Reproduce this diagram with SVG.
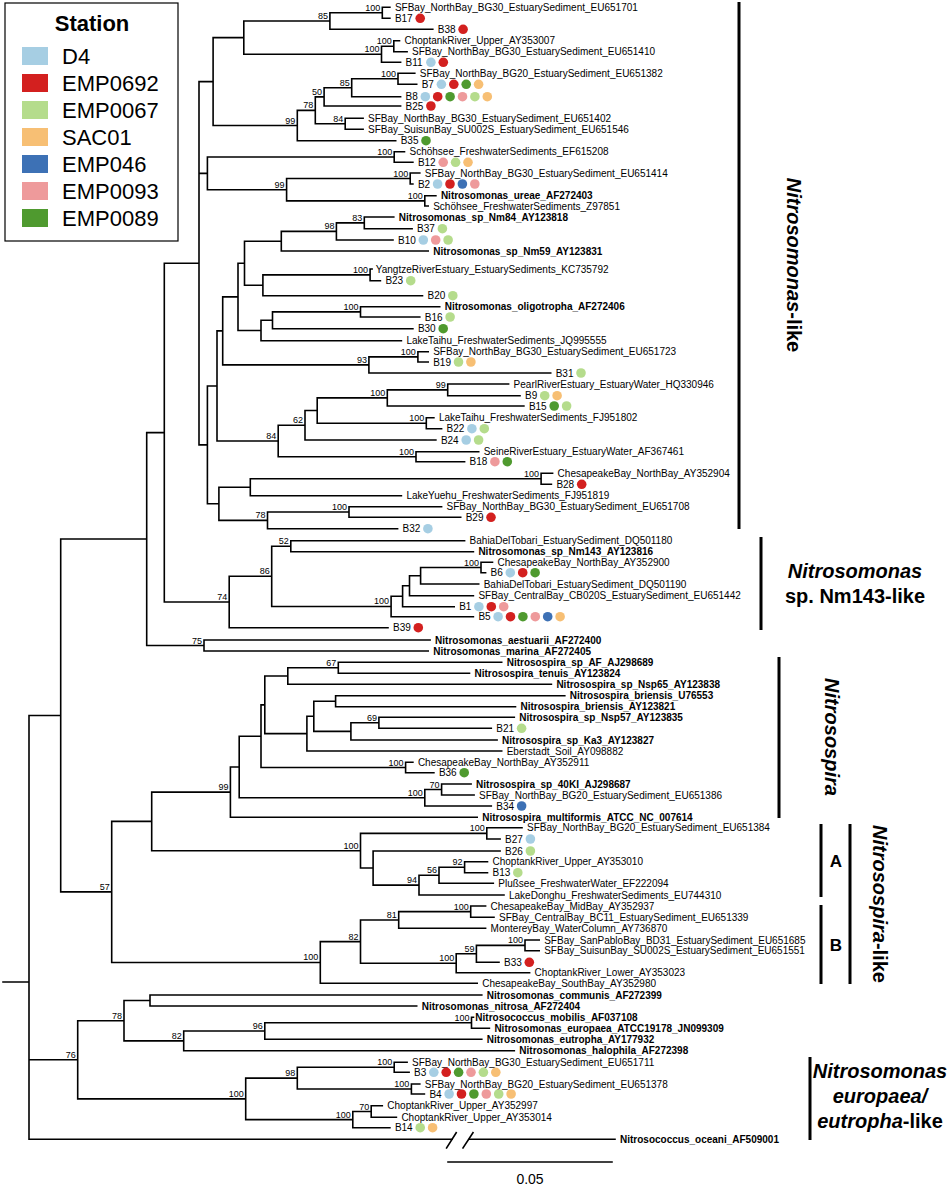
<svg xmlns="http://www.w3.org/2000/svg" width="952" height="1191" viewBox="0 0 952 1191">
<style>
.br{fill:none;stroke:#000;stroke-width:1.6;stroke-linecap:square}
.bar{fill:none;stroke:#000;stroke-width:3}
text{font-family:"Liberation Sans",Arial,Helvetica,sans-serif;fill:#000}
.l{font-size:10px}
.lb{font-size:10px;font-weight:bold}
.s{font-size:9px;text-anchor:end}
.lg{font-size:22px}
.cl{font-size:20px;font-weight:bold}
.it{font-style:italic}
.d4{fill:#a6cee3}.rd{fill:#d3201f}.lg0{fill:#b5dc8c}.or{fill:#f7bf74}.bl{fill:#3d71b5}.pk{fill:#ee9a9b}.gr{fill:#4f9a2f}
</style>
<rect width="952" height="1191" fill="#fff"/>
<g id="legend">
<rect x="5" y="3" width="173" height="238" fill="#fff" stroke="#000" stroke-width="1.2"/>
<text x="92" y="31" text-anchor="middle" style="font-size:22px;font-weight:bold">Station</text>
<rect x="22" y="47" width="26" height="18" class="d4"/><text x="62" y="64" class="lg">D4</text>
<rect x="22" y="74" width="26" height="18" class="rd"/><text x="62" y="91" class="lg">EMP0692</text>
<rect x="22" y="101" width="26" height="18" class="lg0"/><text x="62" y="118" class="lg">EMP0067</text>
<rect x="22" y="128" width="26" height="18" class="or"/><text x="62" y="145" class="lg">SAC01</text>
<rect x="22" y="155" width="26" height="18" class="bl"/><text x="62" y="172" class="lg">EMP046</text>
<rect x="22" y="182" width="26" height="18" class="pk"/><text x="62" y="199" class="lg">EMP0093</text>
<rect x="22" y="209" width="26" height="18" class="gr"/><text x="62" y="226" class="lg">EMP0089</text>
</g>
<g id="connectors">
<path class="br" d="M382.3 7.3V18.3M382.3 7.3H389.9M382.3 18.3H389.9
M329.9 12.8V29.3M329.9 12.8H382.3M329.9 29.3H432.8
M393.8 40.7V51.7M393.8 40.7H399.5M393.8 51.7H407.1
M381.5 46.2V62.3M381.5 46.2H393.8M381.5 62.3H400.6
M243.8 21.05V54.25M243.8 21.05H329.9M243.8 54.25H381.5
M398 73.3V84.3M398 73.3H414.8M398 84.3H416.7
M351.7 78.8V96.7M351.7 78.8H398M351.7 96.7H400.6
M324.1 87.75V106M324.1 87.75H351.7M324.1 106H400.6
M345.2 118.3V129.3M345.2 118.3H363.1M345.2 129.3H363.1
M315.3 96.9V123.8M315.3 96.9H324.1M315.3 123.8H345.2
M297.3 110.35V140.7M297.3 110.35H315.3M297.3 140.7H395.7
M213.1 37.65V125.5M213.1 37.65H243.8M213.1 125.5H297.3
M394.2 151.7V162.3M394.2 151.7H404.5M394.2 162.3H412.9
M410.2 173V184M410.2 173H419.8M410.2 184H412.9
M424.8 195.7V206M424.8 195.7H435.9M424.8 206H428.2
M286.6 178.5V200.85M286.6 178.5H410.2M286.6 200.85H424.8
M207.4 157V189.7M207.4 157H394.2M207.4 189.7H286.6
M364.3 217V228.7M364.3 217H393.8M364.3 228.7H412.1
M336.4 222.85V240M336.4 222.85H364.3M336.4 240H393
M281.3 231.4V251M281.3 231.4H336.4M281.3 251H428.2
M370.1 269V280.7M370.1 269H372.1M370.1 280.7H380.4
M262.9 274.85V295.7M262.9 274.85H370.1M262.9 295.7H422.5
M244.5 241.2V285.3M244.5 241.2H281.3M244.5 285.3H262.9
M360.5 306.7V317M360.5 306.7H439.7M360.5 317H419.8
M272.5 311.85V328.7M272.5 311.85H360.5M272.5 328.7H412.9
M261 320.3V340.7M261 320.3H272.5M261 340.7H401.4
M238 263.25V330.5M238 263.25H244.5M238 330.5H261
M417.9 351.7V362M417.9 351.7H428.2M417.9 362H428.2
M368.9 356.85V373M368.9 356.85H417.9M368.9 373H550.7
M222.7 296.9V364.9M222.7 296.9H238M222.7 364.9H368.9
M447.7 384V395.7M447.7 384H508.6M447.7 395.7H520
M387.3 389.85V406M387.3 389.85H447.7M387.3 406H523.9
M426.3 417.7V428.7M426.3 417.7H433.9M426.3 428.7H441.6
M317.2 397.9V423.2M317.2 397.9H387.3M317.2 423.2H426.3
M305 410.55V440M305 410.55H317.2M305 440H435.9
M416 451.7V461.7M416 451.7H478.7M416 461.7H464.6
M278.2 425.3V456.7M278.2 425.3H305M278.2 456.7H416
M217 330.9V441M217 330.9H222.7M217 441H278.2
M541.1 473.3V484.3M541.1 473.3H552.6M541.1 484.3H551.4
M250.3 478.8V495.7M250.3 478.8H541.1M250.3 495.7H401.4
M349 506.7V517.3M349 506.7H441.6M349 517.3H460.7
M267.5 512V528.7M267.5 512H349M267.5 528.7H397.6
M218.9 487.25V520.35M218.9 487.25H250.3M218.9 520.35H267.5
M207.4 385.95V503.8M207.4 385.95H217M207.4 503.8H218.9
M199 81.6V444.9M199 81.6H213.1M199 173.35H207.4M199 444.9H207.4
M290.8 540.7V551.7M290.8 540.7H464.6M290.8 551.7H473.4
M481 562.3V572.7M481 562.3H492.5M481 572.7H485.6
M420.6 567.5V584M420.6 567.5H481M420.6 584H478.7
M409.5 575.75V595.7M409.5 575.75H420.6M409.5 595.7H473.4
M402.6 585.7V606.7M402.6 585.7H409.5M402.6 606.7H454.2
M391.1 596.2V616.7M391.1 596.2H402.6M391.1 616.7H473.4
M271.7 546.2V606.45M271.7 546.2H290.8M271.7 606.45H391.1
M229.2 576.3V627.7M229.2 576.3H271.7M229.2 627.7H388
M164.3 263.25V602M164.3 263.25H199M164.3 602H229.2
M204 640V651M204 640H430.1M204 651H428.2
M146.7 432.6V645.5M146.7 432.6H164.3M146.7 645.5H204
M338.3 662.3V673.3M338.3 662.3H501.7M338.3 673.3H469.5
M287.8 667.8V684.3M287.8 667.8H338.3M287.8 684.3H551.4
M335.6 695.7V706.7M335.6 695.7H564.8M335.6 706.7H515.5
M378.9 717.3V728.3M378.9 717.3H514.3M378.9 728.3H491.3
M350.9 722.8V740M350.9 722.8H378.9M350.9 740H497.1
M313.8 701.2V731.4M313.8 701.2H335.6M313.8 731.4H350.9
M306.9 716.3V751M306.9 716.3H313.8M306.9 751H501.7
M264.8 676.05V733.65M264.8 676.05H287.8M264.8 733.65H306.9
M405.6 762.3V772.7M405.6 762.3H412.9M405.6 772.7H433.9
M261 704.85V767.5M261 704.85H264.8M261 767.5H405.6
M441.6 784V795M441.6 784H471.1M441.6 795H474.1
M424.8 789.5V806M424.8 789.5H441.6M424.8 806H491.3
M239.2 736.2V797.75M239.2 736.2H261M239.2 797.75H424.8
M230.4 766.95V817.3M230.4 766.95H239.2M230.4 817.3H477.2
M486.8 827.7V839M486.8 827.7H522M486.8 839H500.1
M464.6 861.7V872.7M464.6 861.7H487.5M464.6 872.7H487.5
M439 867.2V883.3M439 867.2H464.6M439 883.3H493.3
M419 875.25V895M419 875.25H439M419 895H504
M373.1 851V885.1M373.1 851H500.1M373.1 885.1H419
M360.5 833.35V868.05M360.5 833.35H486.8M360.5 868.05H373.1
M151.7 792.1V850.7M151.7 792.1H230.4M151.7 850.7H360.5
M470.7 906V917.3M470.7 906H485.6M470.7 917.3H494
M398.7 911.65V928.3M398.7 911.65H470.7M398.7 928.3H485.6
M525 940V950.7M525 940H539.2M525 950.7H539.2
M476.4 945.35V962.3M476.4 945.35H525M476.4 962.3H499
M456.2 953.8V972.7M456.2 953.8H476.4M456.2 972.7H529.6
M360.5 919.95V963.25M360.5 919.95H398.7M360.5 963.25H456.2
M320.3 941.6V983.3M320.3 941.6H360.5M320.3 983.3H477.2
M111.7 821.4V962.45M111.7 821.4H151.7M111.7 962.45H320.3
M60.7 539.05V891.9M60.7 539.05H146.7M60.7 891.9H111.7
M150 995V1006M150 995H481.8M150 1006H416.7
M471.5 1017.3V1028.3M471.5 1017.3H473.5M471.5 1028.3H489.4
M264.8 1022.8V1039.3M264.8 1022.8H471.5M264.8 1039.3H481.8
M183.7 1031.05V1050.7M183.7 1031.05H264.8M183.7 1050.7H514.3
M124 1000.5V1040.9M124 1000.5H150M124 1040.9H183.7
M394.2 1062.3V1072.3M394.2 1062.3H407.1M394.2 1072.3H409.1
M411.4 1084V1094M411.4 1084H419.8M411.4 1094H424.4
M297.3 1067.3V1089M297.3 1067.3H394.2M297.3 1089H411.4
M371.2 1105.7V1117.3M371.2 1105.7H382.3M371.2 1117.3H396.4
M352.8 1111.5V1127.7M352.8 1111.5H371.2M352.8 1127.7H389.9
M245.7 1078.15V1119.6M245.7 1078.15H297.3M245.7 1119.6H352.8
M77.7 1020.7V1098.9M77.7 1020.7H124M77.7 1098.9H245.7
M29 715.5V1139.3M29 715.5H60.7M29 1059.8H77.7M29 1139.3H452M469.6 1139.3H615M3 982H29"/>
<path class="br" d="M446.6 1148L456.2 1132.7M463 1148L473 1132.7"/>
</g>
<g id="support">
<text class="s" x="380.3" y="10.8">100</text><text class="s" x="327.9" y="19">85</text><text class="s" x="391.8" y="44.2">100</text><text class="s" x="379.5" y="52.2">100</text>
<text class="s" x="396" y="76.8">100</text><text class="s" x="349.7" y="85.7">85</text><text class="s" x="322.1" y="94.9">50</text><text class="s" x="343.2" y="121.8">84</text>
<text class="s" x="313.3" y="108.3">78</text><text class="s" x="295.3" y="123.5">99</text><text class="s" x="392.2" y="155">100</text><text class="s" x="408.2" y="176.5">100</text>
<text class="s" x="422.8" y="198.8">100</text><text class="s" x="284.6" y="187.7">99</text><text class="s" x="362.3" y="220.8">83</text><text class="s" x="334.4" y="229.4">98</text>
<text class="s" x="368.1" y="272.8">100</text><text class="s" x="358.5" y="309.8">100</text><text class="s" x="415.9" y="354.8">100</text><text class="s" x="366.9" y="362.9">93</text>
<text class="s" x="445.7" y="387.8">99</text><text class="s" x="385.3" y="395.9">100</text><text class="s" x="424.3" y="421.2">100</text><text class="s" x="303" y="423.3">62</text>
<text class="s" x="414" y="454.7">100</text><text class="s" x="276.2" y="439">84</text><text class="s" x="539.1" y="476.8">100</text><text class="s" x="347" y="510">100</text>
<text class="s" x="265.5" y="518.3">78</text><text class="s" x="288.8" y="544.2">52</text><text class="s" x="479" y="565.5">100</text><text class="s" x="389.1" y="604.4">100</text>
<text class="s" x="269.7" y="574.3">86</text><text class="s" x="227.2" y="600">74</text><text class="s" x="202" y="643.5">75</text><text class="s" x="336.3" y="665.8">67</text>
<text class="s" x="376.9" y="720.8">69</text><text class="s" x="403.6" y="765.5">100</text><text class="s" x="439.6" y="787.5">70</text><text class="s" x="422.8" y="795.7">100</text>
<text class="s" x="228.4" y="790.1">99</text><text class="s" x="484.8" y="831.3">100</text><text class="s" x="462.6" y="865.2">92</text><text class="s" x="437" y="873.2">56</text>
<text class="s" x="417" y="883.1">94</text><text class="s" x="358.5" y="848.7">100</text><text class="s" x="468.7" y="909.6">100</text><text class="s" x="396.7" y="917.9">81</text>
<text class="s" x="523" y="943.3">100</text><text class="s" x="474.4" y="951.8">59</text><text class="s" x="454.2" y="961.2">100</text><text class="s" x="358.5" y="939.6">82</text>
<text class="s" x="318.3" y="960.4">100</text><text class="s" x="109.7" y="889.9">57</text><text class="s" x="469.5" y="1020.8">100</text><text class="s" x="262.8" y="1029">96</text>
<text class="s" x="181.7" y="1038.9">82</text><text class="s" x="122" y="1018.7">78</text><text class="s" x="392.2" y="1065.3">100</text><text class="s" x="409.4" y="1087">100</text>
<text class="s" x="295.3" y="1076.1">98</text><text class="s" x="369.2" y="1109.5">70</text><text class="s" x="350.8" y="1117.6">100</text><text class="s" x="243.7" y="1096.9">100</text>
<text class="s" x="75.7" y="1057.8">76</text>
</g>
<g id="leaves">
<g id="t0"><text class="l" x="394.9" y="10.8">SFBay_NorthBay_BG30_EstuarySediment_EU651701</text></g>
<g id="t1"><text class="l" x="394.9" y="21.8">B17</text><circle cx="420.2" cy="18.3" r="4.8" class="rd"/></g>
<g id="t2"><text class="l" x="437.8" y="32.8">B38</text><circle cx="463.1" cy="29.3" r="4.8" class="rd"/></g>
<g id="t3"><text class="l" x="404.5" y="44.2">ChoptankRiver_Upper_AY353007</text></g>
<g id="t4"><text class="l" x="412.1" y="55.2">SFBay_NorthBay_BG30_EstuarySediment_EU651410</text></g>
<g id="t5"><text class="l" x="405.6" y="65.8">B11</text><circle cx="430.9" cy="62.3" r="4.8" class="d4"/><circle cx="443.3" cy="62.3" r="4.8" class="rd"/></g>
<g id="t6"><text class="l" x="419.8" y="76.8">SFBay_NorthBay_BG20_EstuarySediment_EU651382</text></g>
<g id="t7"><text class="l" x="421.7" y="87.8">B7</text><circle cx="441.4" cy="84.3" r="4.8" class="d4"/><circle cx="453.8" cy="84.3" r="4.8" class="rd"/><circle cx="466.2" cy="84.3" r="4.8" class="gr"/><circle cx="478.6" cy="84.3" r="4.8" class="or"/></g>
<g id="t8"><text class="l" x="405.6" y="100.2">B8</text><circle cx="425.3" cy="96.7" r="4.8" class="d4"/><circle cx="437.7" cy="96.7" r="4.8" class="rd"/><circle cx="450.1" cy="96.7" r="4.8" class="gr"/><circle cx="462.5" cy="96.7" r="4.8" class="pk"/><circle cx="474.9" cy="96.7" r="4.8" class="lg0"/><circle cx="487.3" cy="96.7" r="4.8" class="or"/></g>
<g id="t9"><text class="l" x="405.6" y="109.5">B25</text><circle cx="430.9" cy="106" r="4.8" class="rd"/></g>
<g id="t10"><text class="l" x="368.1" y="121.8">SFBay_NorthBay_BG30_EstuarySediment_EU651402</text></g>
<g id="t11"><text class="l" x="368.1" y="132.8">SFBay_SuisunBay_SU002S_EstuarySediment_EU651546</text></g>
<g id="t12"><text class="l" x="400.7" y="144.2">B35</text><circle cx="426" cy="140.7" r="4.8" class="gr"/></g>
<g id="t13"><text class="l" x="409.5" y="155.2">Schöhsee_FreshwaterSediments_EF615208</text></g>
<g id="t14"><text class="l" x="417.9" y="165.8">B12</text><circle cx="443.2" cy="162.3" r="4.8" class="pk"/><circle cx="455.6" cy="162.3" r="4.8" class="lg0"/><circle cx="468" cy="162.3" r="4.8" class="or"/></g>
<g id="t15"><text class="l" x="424.8" y="176.5">SFBay_NorthBay_BG30_EstuarySediment_EU651414</text></g>
<g id="t16"><text class="l" x="417.9" y="187.5">B2</text><circle cx="437.6" cy="184" r="4.8" class="d4"/><circle cx="450" cy="184" r="4.8" class="rd"/><circle cx="462.4" cy="184" r="4.8" class="bl"/><circle cx="474.8" cy="184" r="4.8" class="pk"/></g>
<g id="t17"><text class="lb" x="440.9" y="199.2">Nitrosomonas_ureae_AF272403</text></g>
<g id="t18"><text class="l" x="433.2" y="209.5">Schöhsee_FreshwaterSediments_Z97851</text></g>
<g id="t19"><text class="lb" x="398.8" y="220.5">Nitrosomonas_sp_Nm84_AY123818</text></g>
<g id="t20"><text class="l" x="417.1" y="232.2">B37</text><circle cx="442.4" cy="228.7" r="4.8" class="lg0"/></g>
<g id="t21"><text class="l" x="398" y="243.5">B10</text><circle cx="423.3" cy="240" r="4.8" class="d4"/><circle cx="435.7" cy="240" r="4.8" class="pk"/><circle cx="448.1" cy="240" r="4.8" class="lg0"/></g>
<g id="t22"><text class="lb" x="433.2" y="254.5">Nitrosomonas_sp_Nm59_AY123831</text></g>
<g id="t23"><text class="l" x="375.8" y="272.5">YangtzeRiverEstuary_EstuarySediments_KC735792</text></g>
<g id="t24"><text class="l" x="385.4" y="284.2">B23</text><circle cx="410.7" cy="280.7" r="4.8" class="lg0"/></g>
<g id="t25"><text class="l" x="427.5" y="299.2">B20</text><circle cx="452.8" cy="295.7" r="4.8" class="lg0"/></g>
<g id="t26"><text class="lb" x="444.7" y="310.2">Nitrosomonas_oligotropha_AF272406</text></g>
<g id="t27"><text class="l" x="424.8" y="320.5">B16</text><circle cx="450.1" cy="317" r="4.8" class="lg0"/></g>
<g id="t28"><text class="l" x="417.9" y="332.2">B30</text><circle cx="443.2" cy="328.7" r="4.8" class="gr"/></g>
<g id="t29"><text class="l" x="406.4" y="344.2">LakeTaihu_FreshwaterSediments_JQ995555</text></g>
<g id="t30"><text class="l" x="433.2" y="355.2">SFBay_NorthBay_BG30_EstuarySediment_EU651723</text></g>
<g id="t31"><text class="l" x="433.2" y="365.5">B19</text><circle cx="458.5" cy="362" r="4.8" class="lg0"/><circle cx="470.9" cy="362" r="4.8" class="or"/></g>
<g id="t32"><text class="l" x="555.7" y="376.5">B31</text><circle cx="581" cy="373" r="4.8" class="lg0"/></g>
<g id="t33"><text class="l" x="513.6" y="387.5">PearlRiverEstuary_EstuaryWater_HQ330946</text></g>
<g id="t34"><text class="l" x="525" y="399.2">B9</text><circle cx="544.7" cy="395.7" r="4.8" class="lg0"/><circle cx="557.1" cy="395.7" r="4.8" class="or"/></g>
<g id="t35"><text class="l" x="528.9" y="409.5">B15</text><circle cx="554.2" cy="406" r="4.8" class="gr"/><circle cx="566.6" cy="406" r="4.8" class="lg0"/></g>
<g id="t36"><text class="l" x="438.9" y="421.2">LakeTaihu_FreshwaterSediments_FJ951802</text></g>
<g id="t37"><text class="l" x="446.6" y="432.2">B22</text><circle cx="471.9" cy="428.7" r="4.8" class="d4"/><circle cx="484.3" cy="428.7" r="4.8" class="lg0"/></g>
<g id="t38"><text class="l" x="440.9" y="443.5">B24</text><circle cx="466.2" cy="440" r="4.8" class="d4"/><circle cx="478.6" cy="440" r="4.8" class="lg0"/></g>
<g id="t39"><text class="l" x="483.7" y="455.2">SeineRiverEstuary_EstuaryWater_AF367461</text></g>
<g id="t40"><text class="l" x="469.6" y="465.2">B18</text><circle cx="494.9" cy="461.7" r="4.8" class="pk"/><circle cx="507.3" cy="461.7" r="4.8" class="gr"/></g>
<g id="t41"><text class="l" x="557.6" y="476.8">ChesapeakeBay_NorthBay_AY352904</text></g>
<g id="t42"><text class="l" x="556.4" y="487.8">B28</text><circle cx="581.7" cy="484.3" r="4.8" class="rd"/></g>
<g id="t43"><text class="l" x="406.4" y="499.2">LakeYuehu_FreshwaterSediments_FJ951819</text></g>
<g id="t44"><text class="l" x="446.6" y="510.2">SFBay_NorthBay_BG30_EstuarySediment_EU651708</text></g>
<g id="t45"><text class="l" x="465.7" y="520.8">B29</text><circle cx="491" cy="517.3" r="4.8" class="rd"/></g>
<g id="t46"><text class="l" x="402.6" y="532.2">B32</text><circle cx="427.9" cy="528.7" r="4.8" class="d4"/></g>
<g id="t47"><text class="l" x="469.6" y="544.2">BahiaDelTobari_EstuarySediment_DQ501180</text></g>
<g id="t48"><text class="lb" x="478.4" y="555.2">Nitrosomonas_sp_Nm143_AY123816</text></g>
<g id="t49"><text class="l" x="497.5" y="565.8">ChesapeakeBay_NorthBay_AY352900</text></g>
<g id="t50"><text class="l" x="490.6" y="576.2">B6</text><circle cx="510.3" cy="572.7" r="4.8" class="d4"/><circle cx="522.7" cy="572.7" r="4.8" class="rd"/><circle cx="535.1" cy="572.7" r="4.8" class="gr"/></g>
<g id="t51"><text class="l" x="483.7" y="587.5">BahiaDelTobari_EstuarySediment_DQ501190</text></g>
<g id="t52"><text class="l" x="478.4" y="599.2">SFBay_CentralBay_CB020S_EstuarySediment_EU651442</text></g>
<g id="t53"><text class="l" x="459.2" y="610.2">B1</text><circle cx="478.9" cy="606.7" r="4.8" class="d4"/><circle cx="491.3" cy="606.7" r="4.8" class="rd"/><circle cx="503.7" cy="606.7" r="4.8" class="pk"/></g>
<g id="t54"><text class="l" x="478.4" y="620.2">B5</text><circle cx="498.1" cy="616.7" r="4.8" class="d4"/><circle cx="510.5" cy="616.7" r="4.8" class="rd"/><circle cx="522.9" cy="616.7" r="4.8" class="gr"/><circle cx="535.3" cy="616.7" r="4.8" class="pk"/><circle cx="547.7" cy="616.7" r="4.8" class="bl"/><circle cx="560.1" cy="616.7" r="4.8" class="or"/></g>
<g id="t55"><text class="l" x="393" y="631.2">B39</text><circle cx="418.3" cy="627.7" r="4.8" class="rd"/></g>
<g id="t56"><text class="lb" x="435.1" y="643.5">Nitrosomonas_aestuarii_AF272400</text></g>
<g id="t57"><text class="lb" x="433.2" y="654.5">Nitrosomonas_marina_AF272405</text></g>
<g id="t58"><text class="lb" x="506.7" y="665.8">Nitrosospira_sp_AF_AJ298689</text></g>
<g id="t59"><text class="lb" x="474.5" y="676.8">Nitrosospira_tenuis_AY123824</text></g>
<g id="t60"><text class="lb" x="556.4" y="687.8">Nitrosospira_sp_Nsp65_AY123838</text></g>
<g id="t61"><text class="lb" x="569.8" y="699.2">Nitrosospira_briensis_U76553</text></g>
<g id="t62"><text class="lb" x="520.5" y="710.2">Nitrosospira_briensis_AY123821</text></g>
<g id="t63"><text class="lb" x="519.3" y="720.8">Nitrosospira_sp_Nsp57_AY123835</text></g>
<g id="t64"><text class="l" x="496.3" y="731.8">B21</text><circle cx="521.6" cy="728.3" r="4.8" class="lg0"/></g>
<g id="t65"><text class="lb" x="502.1" y="743.5">Nitrosospira_sp_Ka3_AY123827</text></g>
<g id="t66"><text class="l" x="506.7" y="754.5">Eberstadt_Soil_AY098882</text></g>
<g id="t67"><text class="l" x="417.9" y="765.8">ChesapeakeBay_NorthBay_AY352911</text></g>
<g id="t68"><text class="l" x="438.9" y="776.2">B36</text><circle cx="464.2" cy="772.7" r="4.8" class="gr"/></g>
<g id="t69"><text class="lb" x="476.1" y="787.5">Nitrosospira_sp_40KI_AJ298687</text></g>
<g id="t70"><text class="l" x="479.1" y="798.5">SFBay_NorthBay_BG20_EstuarySediment_EU651386</text></g>
<g id="t71"><text class="l" x="496.3" y="809.5">B34</text><circle cx="521.6" cy="806" r="4.8" class="bl"/></g>
<g id="t72"><text class="lb" x="482.2" y="820.8">Nitrosospira_multiformis_ATCC_NC_007614</text></g>
<g id="t73"><text class="l" x="527" y="831.2">SFBay_NorthBay_BG20_EstuarySediment_EU651384</text></g>
<g id="t74"><text class="l" x="505.1" y="842.5">B27</text><circle cx="530.4" cy="839" r="4.8" class="d4"/></g>
<g id="t75"><text class="l" x="505.1" y="854.5">B26</text><circle cx="530.4" cy="851" r="4.8" class="lg0"/></g>
<g id="t76"><text class="l" x="492.5" y="865.2">ChoptankRiver_Upper_AY353010</text></g>
<g id="t77"><text class="l" x="492.5" y="876.2">B13</text><circle cx="517.8" cy="872.7" r="4.8" class="lg0"/></g>
<g id="t78"><text class="l" x="498.3" y="886.8">Plußsee_FreshwaterWater_EF222094</text></g>
<g id="t79"><text class="l" x="509" y="898.5">LakeDonghu_FreshwaterSediments_EU744310</text></g>
<g id="t80"><text class="l" x="490.6" y="909.5">ChesapeakeBay_MidBay_AY352937</text></g>
<g id="t81"><text class="l" x="499" y="920.8">SFBay_CentralBay_BC11_EstuarySediment_EU651339</text></g>
<g id="t82"><text class="l" x="490.6" y="931.8">MontereyBay_WaterColumn_AY736870</text></g>
<g id="t83"><text class="l" x="544.2" y="943.5">SFBay_SanPabloBay_BD31_EstuarySediment_EU651685</text></g>
<g id="t84"><text class="l" x="544.2" y="954.2">SFBay_SuisunBay_SU002S_EstuarySediment_EU651551</text></g>
<g id="t85"><text class="l" x="504" y="965.8">B33</text><circle cx="529.3" cy="962.3" r="4.8" class="rd"/></g>
<g id="t86"><text class="l" x="534.6" y="976.2">ChoptankRiver_Lower_AY353023</text></g>
<g id="t87"><text class="l" x="482.2" y="986.8">ChesapeakeBay_SouthBay_AY352980</text></g>
<g id="t88"><text class="lb" x="486.8" y="998.5">Nitrosomonas_communis_AF272399</text></g>
<g id="t89"><text class="lb" x="421.7" y="1009.5">Nitrosomonas_nitrosa_AF272404</text></g>
<g id="t90"><text class="lb" x="475.3" y="1020.8">Nitrosococcus_mobilis_AF037108</text></g>
<g id="t91"><text class="lb" x="494.4" y="1031.8">Nitrosomonas_europaea_ATCC19178_JN099309</text></g>
<g id="t92"><text class="lb" x="486.8" y="1042.8">Nitrosomonas_eutropha_AY177932</text></g>
<g id="t93"><text class="lb" x="519.3" y="1054.2">Nitrosomonas_halophila_AF272398</text></g>
<g id="t94"><text class="l" x="412.1" y="1065.8">SFBay_NorthBay_BG30_EstuarySediment_EU651711</text></g>
<g id="t95"><text class="l" x="414.1" y="1075.8">B3</text><circle cx="433.8" cy="1072.3" r="4.8" class="d4"/><circle cx="446.2" cy="1072.3" r="4.8" class="rd"/><circle cx="458.6" cy="1072.3" r="4.8" class="gr"/><circle cx="471" cy="1072.3" r="4.8" class="pk"/><circle cx="483.4" cy="1072.3" r="4.8" class="lg0"/><circle cx="495.8" cy="1072.3" r="4.8" class="or"/></g>
<g id="t96"><text class="l" x="424.8" y="1087.5">SFBay_NorthBay_BG20_EstuarySediment_EU651378</text></g>
<g id="t97"><text class="l" x="429.4" y="1097.5">B4</text><circle cx="449.1" cy="1094" r="4.8" class="d4"/><circle cx="461.5" cy="1094" r="4.8" class="rd"/><circle cx="473.9" cy="1094" r="4.8" class="gr"/><circle cx="486.3" cy="1094" r="4.8" class="pk"/><circle cx="498.7" cy="1094" r="4.8" class="lg0"/><circle cx="511.1" cy="1094" r="4.8" class="or"/></g>
<g id="t98"><text class="l" x="387.3" y="1109.2">ChoptankRiver_Upper_AY352997</text></g>
<g id="t99"><text class="l" x="401.4" y="1120.8">ChoptankRiver_Upper_AY353014</text></g>
<g id="t100"><text class="l" x="394.9" y="1131.2">B14</text><circle cx="420.2" cy="1127.7" r="4.8" class="lg0"/><circle cx="432.6" cy="1127.7" r="4.8" class="or"/></g>
<g id="t101"><text class="lb" x="620" y="1142.8">Nitrosococcus_oceani_AF509001</text></g>
</g>
<g id="clades">
<path class="bar" d="M739 2V529M761 537V630M779 657V818M821 824V897M821 905V984M850 824V984M810 1057V1140"/>
<text class="cl" transform="translate(787 265) rotate(90)" text-anchor="middle"><tspan class="it">Nitrosomonas</tspan>-like</text>
<text class="cl" x="855" y="578" text-anchor="middle"><tspan class="it">Nitrosomonas</tspan></text>
<text class="cl" x="855" y="603" text-anchor="middle">sp. Nm143-like</text>
<text class="cl it" transform="translate(825 737) rotate(90)" text-anchor="middle">Nitrosospira</text>
<text class="cl" x="836" y="867" text-anchor="middle" style="font-size:17px">A</text>
<text class="cl" x="836" y="951" text-anchor="middle" style="font-size:17px">B</text>
<text class="cl" transform="translate(873 904) rotate(90)" text-anchor="middle"><tspan class="it">Nitrosospira</tspan>-like</text>
<text class="cl it" x="880" y="1078" text-anchor="middle">Nitrosomonas</text>
<text class="cl it" x="880" y="1103" text-anchor="middle">europaea/</text>
<text class="cl" x="880" y="1128" text-anchor="middle"><tspan class="it">eutropha</tspan>-like</text>
</g>
<g id="scale">
<path class="br" d="M448 1162H612"/>
<text x="530" y="1184" text-anchor="middle" style="font-size:14px">0.05</text>
</g>
</svg>
